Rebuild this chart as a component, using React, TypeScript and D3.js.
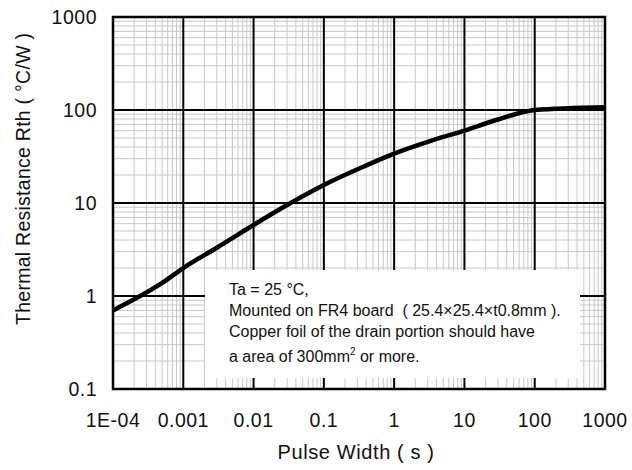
import React from 'react';
import * as d3 from 'd3';

// Transient thermal resistance curve
const pulseWidth = [1e-4, 5e-4, 1e-3, 3e-3, 1e-2, 3e-2, 0.1, 0.3, 1, 3, 10, 30, 100, 1000];
const rth = [0.7, 1.38, 2.0, 3.3, 5.8, 9.5, 15.6, 23, 34, 45.5, 60, 79, 100, 107];

const xTicks = [1e-4, 1e-3, 1e-2, 0.1, 1, 10, 100, 1000];
const xTickLabels = ['1E-04', '0.001', '0.01', '0.1', '1', '10', '100', '1000'];
const yTicks = [0.1, 1, 10, 100, 1000];
const yTickLabels = ['0.1', '1', '10', '100', '1000'];

const noteLines = [
  'Ta = 25 °C,',
  'Mounted on FR4 board  ( 25.4×25.4×t0.8mm ).',
  'Copper foil of the drain portion should have',
];

const W = 632;
const H = 470;
const margin = { top: 17, right: 27, bottom: 81, left: 113 };
const FONT = 'Arial, "Liberation Sans", sans-serif';

function minorValues(ticks: number[]) {
  const out: number[] = [];
  for (let i = 0; i < ticks.length - 1; i++) {
    for (let m = 2; m <= 9; m++) out.push(ticks[i] * m);
  }
  return out;
}

export default function App() {
  const iw = W - margin.left - margin.right;
  const ih = H - margin.top - margin.bottom;
  const x = d3.scaleLog().domain([1e-4, 1000]).range([0, iw]);
  const y = d3.scaleLog().domain([0.1, 1000]).range([ih, 0]);

  const pts = pulseWidth.map((p, i) => [p, rth[i]] as [number, number]);
  const line = d3
    .line<[number, number]>()
    .x(d => x(d[0]))
    .y(d => y(d[1]))
    .curve(d3.curveMonotoneX);

  const xMinor = minorValues(xTicks);
  const yMinor = minorValues(yTicks);

  // note box (in plot coords)
  const box = { x0: 92, y0: 253, x1: 467, y1: 361 };

  return (
    <svg
      width={W}
      height={H}
      style={{ position: 'absolute', left: 0, top: 0, background: '#fff' }}
      fontFamily={FONT}
    >
      <g transform={`translate(${margin.left},${margin.top})`}>
        {xMinor.map((v, i) => (
          <line key={'xm' + i} x1={x(v)} x2={x(v)} y1={0} y2={ih} stroke="#c8c8c8" strokeWidth={1} />
        ))}
        {yMinor.map((v, i) => (
          <line key={'ym' + i} x1={0} x2={iw} y1={y(v)} y2={y(v)} stroke="#c8c8c8" strokeWidth={1} />
        ))}
        {xTicks.map((v, i) => (
          <line key={'xM' + i} x1={x(v)} x2={x(v)} y1={0} y2={ih} stroke="#000" strokeWidth={2} />
        ))}
        {yTicks.map((v, i) => (
          <line key={'yM' + i} x1={0} x2={iw} y1={y(v)} y2={y(v)} stroke="#000" strokeWidth={2} />
        ))}

        <rect x={box.x0} y={box.y0} width={box.x1 - box.x0} height={box.y1 - box.y0} fill="#fff" />

        <path d={line(pts) || ''} fill="none" stroke="#000" strokeWidth={4.5} strokeLinejoin="round" />

        <rect x={0} y={0} width={iw} height={ih} fill="none" stroke="#000" strokeWidth={2.5} />

        <g fontSize={16} fill="#111" style={{ whiteSpace: 'pre' }}>
          {noteLines.map((t, i) => (
            <text key={i} x={116} y={278 + i * 21} xmlSpace="preserve">{t}</text>
          ))}
          <text x={116} y={345}>
            a area of 300mm
            <tspan fontSize={10} dy={-7}>2</tspan>
            <tspan dy={7}> or more.</tspan>
          </text>
        </g>

        {xTicks.map((v, i) => (
          <text key={'xl' + i} x={x(v)} y={ih + 38} textAnchor="middle" fontSize={19.5} letterSpacing={0.5} fill="#111">
            {xTickLabels[i]}
          </text>
        ))}
        {yTicks.map((v, i) => (
          <text key={'yl' + i} x={-16} y={y(v)} dy="0.35em" textAnchor="end" fontSize={19.5} letterSpacing={0.5} fill="#111">
            {yTickLabels[i]}
          </text>
        ))}
        <text
          x={iw / 2 - 3}
          y={ih + 70}
          textAnchor="middle"
          fontSize={20}
          letterSpacing={0.6}
          fill="#111"
        >
          Pulse Width ( s )
        </text>
        <text
          transform={`translate(${-83},${ih / 2 - 24}) rotate(-90)`}
          textAnchor="middle"
          fontSize={19.5}
          fill="#111"
          textLength={292}
          lengthAdjust="spacing"
        >
          Thermal Resistance Rth ( °C/W )
        </text>
      </g>
    </svg>
  );
}
